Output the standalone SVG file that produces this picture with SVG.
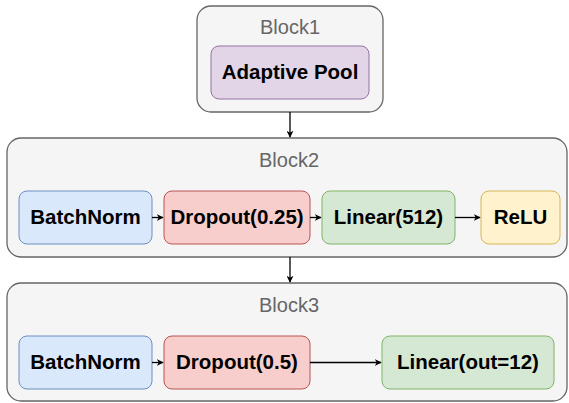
<svg xmlns="http://www.w3.org/2000/svg" width="569" height="403" viewBox="0 0 569 403">
<defs>
<marker id="ah" viewBox="0 0 10 10" refX="9" refY="5" markerWidth="7" markerHeight="7" markerUnits="userSpaceOnUse" orient="auto">
<path d="M0,0 L10,5 L0,10 L3,5 Z" fill="#000"/>
</marker>
<style>
.blk{fill:#f5f5f5;stroke:#666666;stroke-width:1.3}
.t{font-family:"Liberation Sans",Arial,sans-serif;font-size:20px;fill:#666666;text-anchor:middle}
.l{font-family:"Liberation Sans",Arial,sans-serif;font-size:20.5px;font-weight:bold;fill:#000;text-anchor:middle}
.blue{fill:#dae8fc;stroke:#6c8ebf}
.red{fill:#f8cecc;stroke:#b85450}
.green{fill:#d5e8d4;stroke:#82b366}
.yellow{fill:#fff2cc;stroke:#d6b656}
.purple{fill:#e1d5e7;stroke:#9673a6}
.e{stroke:#000;stroke-width:1.3;fill:none;marker-end:url(#ah)}
</style>
</defs>
<g id="block1">
<rect class="blk" x="197" y="6" width="186" height="106" rx="14"/>
<text class="t" x="290" y="34">Block1</text>
</g>
<g id="block2">
<rect class="blk" x="7" y="138" width="560" height="119" rx="14"/>
<text class="t" x="289" y="167">Block2</text>
</g>
<g id="block3">
<rect class="blk" x="7" y="283" width="560" height="118" rx="14"/>
<text class="t" x="289" y="312">Block3</text>
</g>
<g id="adaptive-pool">
<rect class="purple" x="211" y="46" width="158" height="53" rx="8"/>
<text class="l" x="290" y="79">Adaptive Pool</text>
</g>
<g id="b2-batchnorm">
<rect class="blue" x="19" y="191" width="133" height="53" rx="8"/>
<text class="l" x="85.5" y="224">BatchNorm</text>
</g>
<g id="b2-dropout">
<rect class="red" x="164" y="191" width="146" height="53" rx="8"/>
<text class="l" x="237" y="224">Dropout(0.25)</text>
</g>
<g id="b2-linear">
<rect class="green" x="322" y="191" width="133" height="53" rx="8"/>
<text class="l" x="388.5" y="224">Linear(512)</text>
</g>
<g id="b2-relu">
<rect class="yellow" x="481" y="191" width="79" height="53" rx="8"/>
<text class="l" x="520.5" y="224">ReLU</text>
</g>
<g id="b3-batchnorm">
<rect class="blue" x="19" y="336" width="133" height="53" rx="8"/>
<text class="l" x="85.5" y="369">BatchNorm</text>
</g>
<g id="b3-dropout">
<rect class="red" x="164" y="336" width="146" height="53" rx="8"/>
<text class="l" x="237" y="369">Dropout(0.5)</text>
</g>
<g id="b3-linear">
<rect class="green" x="382" y="336" width="172" height="53" rx="8"/>
<text class="l" x="468" y="369">Linear(out=12)</text>
</g>
<g id="connectors">
<line class="e" x1="290" y1="112" x2="290" y2="137"/>
<line class="e" x1="290" y1="257" x2="290" y2="282"/>
<line class="e" x1="152" y1="217.5" x2="163" y2="217.5"/>
<line class="e" x1="310" y1="217.5" x2="321" y2="217.5"/>
<line class="e" x1="455" y1="217.5" x2="480" y2="217.5"/>
<line class="e" x1="152" y1="362.5" x2="163" y2="362.5"/>
<line class="e" x1="310" y1="362.5" x2="381" y2="362.5"/>
</g>
</svg>
